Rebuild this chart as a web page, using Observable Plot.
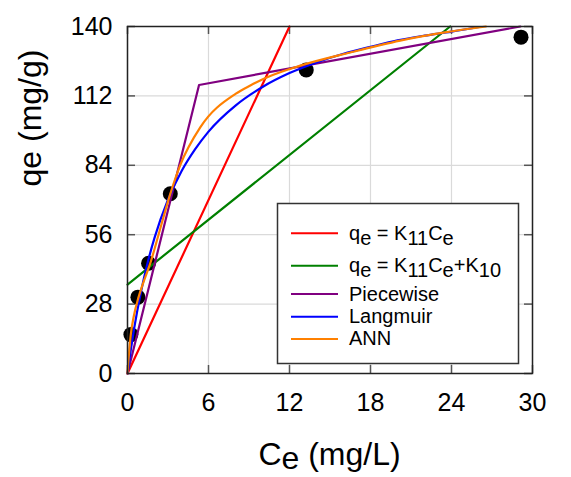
<!DOCTYPE html>
<html>
<head>
<meta charset="utf-8">
<script src="https://cdn.jsdelivr.net/npm/d3@7"></script>
<script src="https://cdn.jsdelivr.net/npm/@observablehq/plot@0.6"></script>
<style>
  body { margin: 0; background: #fff; }
  #chart { width: 571px; height: 477px; }
  #chart svg { display: block; }
</style>
</head>
<body>
<div id="chart"></div>
<script>
// Measured equilibrium data (Ce in mg/L, qe in mg/g)
const ceObserved = [0.25, 0.77, 1.56, 3.17, 13.24, 29.15];
const qeObserved = [15.7, 30.8, 44.5, 72.5, 122.5, 135.7];

// qe = K11·Ce
const linearCe = [0, 12.0];
const linearQe = [0, 140];

// qe = K11·Ce + K10
const affineCe = [0, 23.9];
const affineQe = [35.9, 140];

// Two-segment piecewise linear fit
const piecewiseCe = [0, 5.3, 29.1];
const piecewiseQe = [0, 116.4, 140];

// Langmuir isotherm
const langmuirCe = [0, 0.25, 0.5, 1, 1.5, 2, 3, 4, 5, 6, 8, 10, 12, 14, 16, 18, 20, 22, 24, 26.06];
const langmuirQe = [0, 9.7, 18.4, 33.0, 44.9, 54.7, 70.1, 81.6, 90.4, 97.6, 108.1, 115.6, 121.2, 125.5, 129.0, 131.8, 134.4, 136.3, 137.9, 139.8];

// Neural-network prediction
const annCe = [0, 0.05, 0.13, 0.25, 0.45, 0.82, 1.14, 1.69, 2.3, 3.17, 3.9, 5.4, 8.0, 9.1, 10.35, 12.8, 16.5, 20.2, 23.5, 26.55];
const annQe = [0, 4, 9.3, 16, 22.7, 30.8, 36.2, 44.5, 56, 72.5, 84, 99.4, 112.8, 116.2, 119.5, 124.2, 129.5, 134.3, 137.6, 140];

const xTicks = [0, 6, 12, 18, 24, 30];
const yTicks = [0, 28, 56, 84, 112, 140];

const seriesNames = ["linear", "affine", "piecewise", "langmuir", "ann"];
const seriesColors = ["#ff0000", "#008000", "#800080", "#0000ff", "#ff8000"];
// legend labels as [text, isSubscript] runs
const seriesLabels = [
  [["q", 0], ["e", 1], [" = K", 0], ["11", 1], ["C", 0], ["e", 1]],
  [["q", 0], ["e", 1], [" = K", 0], ["11", 1], ["C", 0], ["e", 1], ["+K", 0], ["10", 1]],
  [["Piecewise", 0]],
  [["Langmuir", 0]],
  [["ANN", 0]]
];
const seriesCe = [linearCe, affineCe, piecewiseCe, langmuirCe, annCe];
const seriesQe = [linearQe, affineQe, piecewiseQe, langmuirQe, annQe];
const seriesCurve = ["linear", "linear", "linear", "monotone-x", "monotone-x"];

const W = 571, H = 477;
const mL = 127, mR = 39, mT = 26, mB = 104;
const innerW = W - mL - mR, innerH = H - mT - mB;

const observed = ceObserved.map((c, i) => ({ce: c, qe: qeObserved[i]}));
const seriesData = seriesNames.map((n, k) =>
  seriesCe[k].map((c, i) => ({ce: c, qe: seriesQe[k][i]})));

const tickStyle = {stroke: "#555", strokeWidth: 1.5};

const plot = Plot.plot({
  width: W,
  height: H,
  marginLeft: mL,
  marginRight: mR,
  marginTop: mT,
  marginBottom: mB,
  style: {fontFamily: "Arial, 'Liberation Sans', sans-serif", fontSize: "25px", color: "#000", background: "#fff"},
  x: {domain: [0, 30]},
  y: {domain: [0, 140]},
  marks: [
    Plot.gridX(xTicks, {stroke: "#dadada", strokeOpacity: 1, strokeWidth: 1.2}),
    Plot.gridY(yTicks, {stroke: "#dadada", strokeOpacity: 1, strokeWidth: 1.2}),
    Plot.tickX(xTicks, {x: d => d, insetTop: innerH - 8, ...tickStyle}),
    Plot.tickX(xTicks, {x: d => d, insetBottom: innerH - 8, ...tickStyle}),
    Plot.tickY(yTicks, {y: d => d, insetRight: innerW - 8, ...tickStyle}),
    Plot.tickY(yTicks, {y: d => d, insetLeft: innerW - 8, ...tickStyle}),
    Plot.axisX(xTicks, {tickSize: 0, tickPadding: 20, fontSize: 25, label: null}),
    Plot.axisY(yTicks, {tickSize: 0, tickPadding: 15, fontSize: 25, label: null}),
    Plot.dot(observed, {x: "ce", y: "qe", r: 7.5, fill: "#000", stroke: "none"}),
    ...seriesData.map((d, k) => Plot.line(d, {
      x: "ce", y: "qe", stroke: seriesColors[k], strokeWidth: 2.2, curve: seriesCurve[k]
    })),
    Plot.frame({stroke: "#222", strokeWidth: 1.5}),
    Plot.text(["qe (mg/g)"], {
      text: d => d, frameAnchor: "left", rotate: -90, lineAnchor: "bottom",
      dx: -87, dy: -13.5, fontSize: 32, fill: "#000"
    })
  ]
});

document.getElementById("chart").appendChild(plot);

const svg = d3.select(plot);
const font = "Arial, 'Liberation Sans', sans-serif";

// x-axis title with subscript
const xt = svg.append("text")
  .attr("x", mL + innerW / 2)
  .attr("y", 465)
  .attr("text-anchor", "middle")
  .attr("font-family", font)
  .attr("font-size", 32)
  .attr("fill", "#000");
xt.append("tspan").text("C");
xt.append("tspan").attr("dy", 4).text("e");
xt.append("tspan").attr("dy", -4).text(" (mg/L)");

// legend box
const lg = svg.append("g")
  .attr("font-family", font)
  .attr("font-size", 20)
  .attr("text-anchor", "start");
lg.append("rect")
  .attr("x", 277.5).attr("y", 203.5)
  .attr("width", 241).attr("height", 160)
  .attr("fill", "#fff").attr("stroke", "#333").attr("stroke-width", 1.5);
const rowLine = [233.3, 265.7, 294, 316.7, 339];
const rowBase = [240, 272, 301, 323.3, 345];
seriesNames.forEach((n, k) => {
  lg.append("line")
    .attr("x1", 291).attr("x2", 338)
    .attr("y1", rowLine[k]).attr("y2", rowLine[k])
    .attr("stroke", seriesColors[k]).attr("stroke-width", 2);
  const t = lg.append("text")
    .attr("x", 349).attr("y", rowBase[k])
    .attr("text-anchor", "start")
    .attr("fill", "#000");
  let shift = 0;
  seriesLabels[k].forEach(([s, sub]) => {
    const target = sub ? 5 : 0;
    t.append("tspan").attr("dy", target - shift).text(s);
    shift = target;
  });
});
</script>
</body>
</html>
